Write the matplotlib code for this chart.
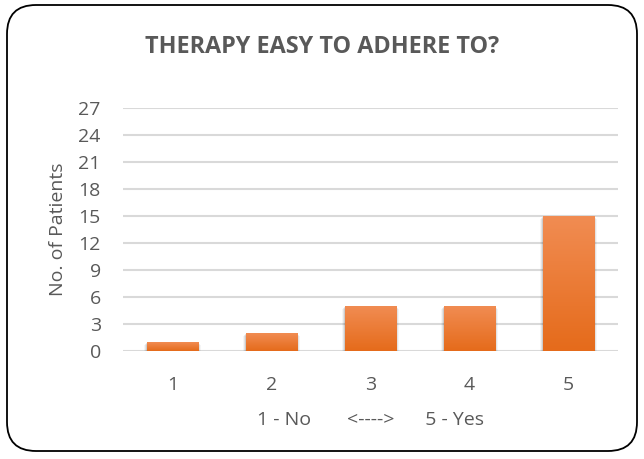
import numpy as np
import matplotlib.pyplot as plt
from matplotlib.patches import FancyBboxPatch
from matplotlib.colors import LinearSegmentedColormap

# data
categories = ['1', '2', '3', '4', '5']
patients = [1, 2, 5, 5, 15]
y_ticks = list(range(0, 28, 3))

plt.rcParams['font.family'] = ['Open Sans', 'DejaVu Sans']
text_color = '#595959'

fig = plt.figure(figsize=(6.44, 4.59), dpi=100)
ax = fig.add_axes([123 / 644, 1 - 351 / 459, 495 / 644, 243 / 459])

# rounded outer border
border = FancyBboxPatch((7 / 644, 8 / 459), 630 / 644, 446 / 459,
                        boxstyle='round,pad=0,rounding_size=0.045',
                        transform=fig.transFigure, facecolor='none',
                        edgecolor='black', linewidth=1.3, mutation_aspect=644 / 459)
fig.patches.append(border)

x = np.arange(len(categories))
bars = ax.bar(x, patients, width=0.52, color='#ED7D31', zorder=3)

# soft shadow and vertical gradient on each bar
grad = LinearSegmentedColormap.from_list('g', ['#E56B1B', '#F18C52'])
for b in bars:
    bx, by = b.get_x(), b.get_y()
    bw, bh = b.get_width(), b.get_height()
    for k, a in enumerate([0.10, 0.07, 0.04]):
        ax.add_patch(plt.Rectangle((bx - 0.01 * (k + 1), by - 0.12 * (k + 1)), bw + 0.02 * (k + 1), bh + 0.05,
                                   facecolor='black', alpha=a, linewidth=0, zorder=2))
    img = ax.imshow(np.linspace(0, 1, 100).reshape(-1, 1), cmap=grad, aspect='auto',
                    extent=[bx, bx + bw, by, by + bh], origin='lower', zorder=4)
    img.set_clip_path(b)

ax.set_xlim(-0.5, 4.5)
ax.set_ylim(0, 27)
ax.set_yticks(y_ticks)
ax.set_xticks(x)
ax.set_xticklabels(categories)
ax.grid(axis='y', color='#D9D9D9', linewidth=1.5, zorder=0)
ax.set_axisbelow(True)
for s in ax.spines.values():
    s.set_visible(False)
ax.tick_params(length=0, labelsize=14, colors=text_color)
ax.tick_params(axis='y', pad=16)
ax.tick_params(axis='x', pad=18)

ax.set_ylabel('No. of Patients', fontsize=14, color=text_color, labelpad=8)
ax.set_xlabel('1 - No       <---->      5 - Yes', fontsize=14, color=text_color, labelpad=12)
fig.text(0.5, 1 - 47 / 459, 'THERAPY EASY TO ADHERE TO?', ha='center', va='center',
         fontsize=16.8, fontweight='bold', color=text_color)

fig.savefig('out.png', dpi=100)
